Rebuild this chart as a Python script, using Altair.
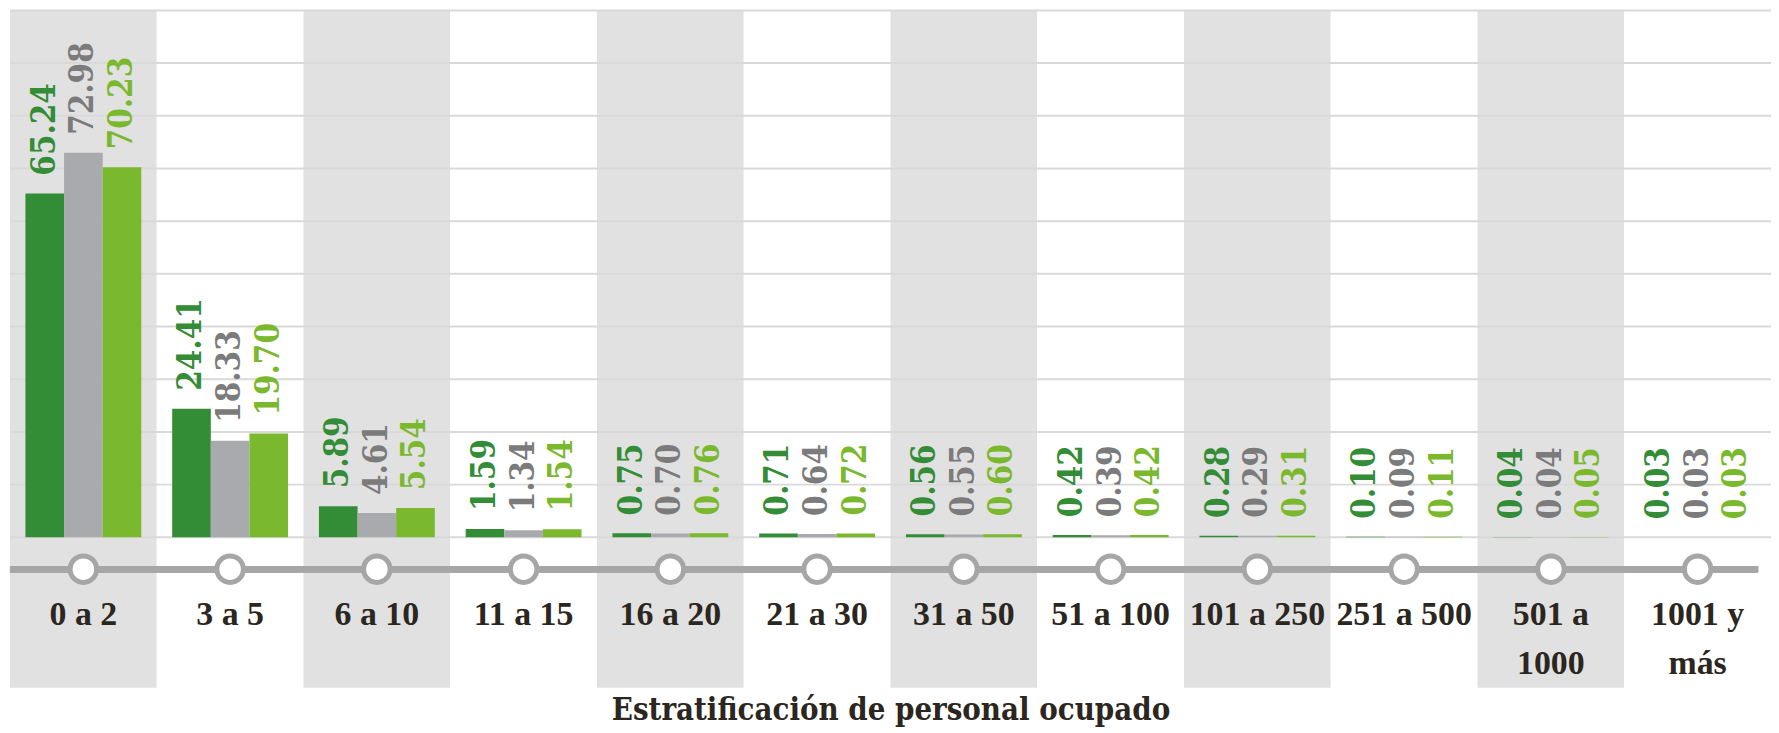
import altair as alt
import pandas as pd

categories = ["0 a 2", "3 a 5", "6 a 10", "11 a 15", "16 a 20", "21 a 30",
              "31 a 50", "51 a 100", "101 a 250", "251 a 500", "501 a\n1000", "1001 y\nmás"]
series_names = ["Serie 1", "Serie 2", "Serie 3"]
serie1 = [65.24, 24.41, 5.89, 1.59, 0.75, 0.71, 0.56, 0.42, 0.28, 0.10, 0.04, 0.03]
serie2 = [72.98, 18.33, 4.61, 1.34, 0.70, 0.64, 0.55, 0.39, 0.29, 0.09, 0.04, 0.03]
serie3 = [70.23, 19.70, 5.54, 1.54, 0.76, 0.72, 0.60, 0.42, 0.31, 0.11, 0.05, 0.03]
grid_values = [0, 10, 20, 30, 40, 50, 60, 70, 80, 90, 100]
axis_title = "Estratificación de personal ocupado"

bar_colors = ["#338c36", "#a9aaae", "#7ab92d"]
label_colors = ["#338c36", "#7b7b7b", "#7ab92d"]
FONT = "'DejaVu Serif Condensed', 'Liberation Serif', serif"
CAT_FONT = "'Liberation Serif', serif"
TEXT_COLOR = "#2b2720"

rows = []
for i, c in enumerate(categories):
    for s, vals in zip(series_names, [serie1, serie2, serie3]):
        rows.append({"cat": c, "serie": s, "valor": vals[i]})
df = pd.DataFrame(rows)
cat_df = pd.DataFrame({"cat": categories, "idx": list(range(len(categories)))})
grid_df = pd.DataFrame({"g": grid_values})

W, H = 1768, 680
yscale = alt.Scale(domain=[-28.55, 100], nice=False, zero=False)

x_enc = alt.X(
    "cat:N", sort=categories,
    scale=alt.Scale(paddingInner=0, paddingOuter=0),
    axis=alt.Axis(title=axis_title, labels=False, ticks=False, domain=False, grid=False,
                  titleFont=FONT, titleFontSize=31, titleFontWeight="bold",
                  titleColor=TEXT_COLOR, titlePadding=8),
)
xoff = alt.XOffset("serie:N", sort=series_names,
                   scale=alt.Scale(paddingInner=0, paddingOuter=0.4))

background = alt.Chart(cat_df).mark_rect().encode(
    x=x_enc,
    y=alt.value(0),
    y2=alt.value(H),
    color=alt.condition("datum.idx % 2 == 0", alt.value("#e1e1e1"), alt.value("#ffffff")),
)

grid = alt.Chart(grid_df).mark_rule(color="#d9d9d9", strokeWidth=2).encode(
    y=alt.Y("g:Q", scale=yscale, axis=None)
)

bars = alt.Chart(df).mark_bar().encode(
    x=x_enc,
    xOffset=xoff,
    y=alt.Y("valor:Q", scale=yscale, axis=None),
    y2=alt.datum(0),
    color=alt.Color("serie:N", scale=alt.Scale(domain=series_names, range=bar_colors), legend=None),
)

labels = alt.Chart(df).mark_text(
    angle=270, align="left", baseline="middle", dx=18,
    font=FONT, fontSize=33, fontWeight="bold",
).encode(
    x=x_enc,
    xOffset=xoff,
    y=alt.Y("valor:Q", scale=yscale, axis=None),
    text=alt.Text("valor:Q", format=".2f"),
    color=alt.Color("serie:N", scale=alt.Scale(domain=series_names, range=label_colors), legend=None),
)

axis_line = alt.Chart(cat_df).mark_rule(color="#a6a6a6", strokeWidth=6).encode(
    x=alt.value(0), x2=alt.value(1755), y=alt.value(561)
)

circles = alt.Chart(cat_df).mark_circle(
    color="white", stroke="#a6a6a6", strokeWidth=5, size=707, opacity=1
).encode(x=x_enc, y=alt.value(561))

cat_labels = alt.Chart(cat_df).mark_text(
    font=CAT_FONT, fontSize=34, fontWeight="bold", color=TEXT_COLOR,
    baseline="alphabetic", align="center", lineBreak="\n", lineHeight=49,
).encode(x=x_enc, y=alt.value(617), text="cat:N")

chart = alt.layer(
    background, grid, bars, labels, axis_line, circles, cat_labels
).resolve_scale(color="independent").properties(
    width=W, height=H,
    autosize="none",
    padding={"left": 2, "top": 1, "right": 0, "bottom": 42},
).configure_view(stroke=None)

chart.save("out.html", embed_options={"renderer": "svg", "actions": False})
